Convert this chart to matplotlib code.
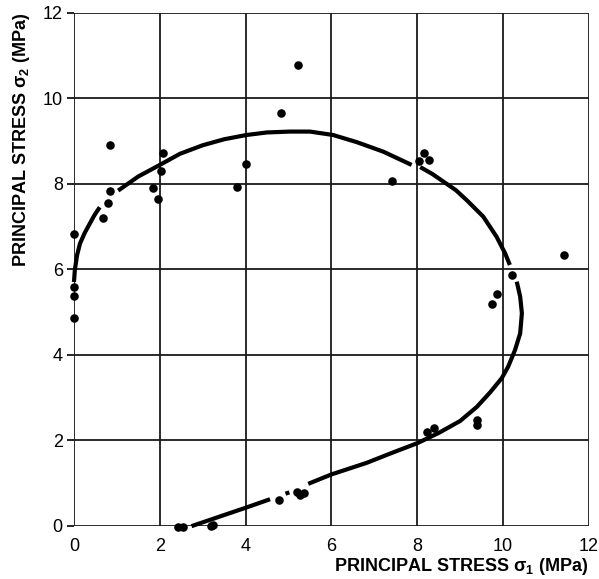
import numpy as np
import matplotlib
matplotlib.use("Agg")
import matplotlib.pyplot as plt

# ---- data ----
sigma1_pts = [0.0, 0.0, 0.0, 0.0, 0.67, 0.79, 0.84, 0.85, 1.85, 1.97, 2.03, 2.07,
              3.79, 4.01, 4.83, 5.21, 7.42, 8.05, 8.17, 8.27, 10.22, 11.41, 9.85, 9.74,
              9.39, 9.39, 8.22, 8.40, 4.79, 5.20, 5.27, 5.36, 2.43, 2.55, 3.23, 3.20]
sigma2_pts = [6.82, 5.58, 5.38, 4.85, 7.21, 7.54, 7.83, 8.90, 7.89, 7.64, 8.30, 8.71,
              7.93, 8.46, 9.66, 10.78, 8.07, 8.53, 8.71, 8.55, 5.86, 6.34, 5.41, 5.18,
              2.47, 2.36, 2.20, 2.28, 0.60, 0.80, 0.72, 0.76, -0.04, -0.03, 0.02, 0.00]

# fitted envelope (segments separated by gaps near data points)
curve_segments = [
    ([0.0, 0.02, 0.07, 0.14, 0.25, 0.37, 0.48, 0.60],
     [5.70, 5.98, 6.32, 6.60, 6.85, 7.07, 7.27, 7.45]),
    ([1.03, 1.5, 2.0, 2.47, 3.0, 3.5, 4.02, 4.5, 5.03, 5.5, 6.04, 6.6, 7.21, 7.87],
     [7.84, 8.17, 8.44, 8.70, 8.90, 9.04, 9.14, 9.20, 9.22, 9.22, 9.14, 8.97, 8.75, 8.44]),
    ([8.07, 8.35, 8.61, 8.90, 9.15, 9.54, 9.85, 10.05, 10.16],
     [8.39, 8.23, 8.05, 7.85, 7.62, 7.23, 6.76, 6.37, 6.10]),
    ([10.32, 10.40, 10.44, 10.40, 10.28, 10.12, 9.97, 9.70, 9.39, 9.00, 8.50, 8.00, 7.40, 6.82, 6.00, 5.46],
     [5.71, 5.36, 4.97, 4.50, 4.11, 3.72, 3.45, 3.12, 2.78, 2.45, 2.17, 1.93, 1.70, 1.47, 1.20, 0.98]),
    ([4.93, 5.02],
     [0.75, 0.78]),
    ([2.74, 3.5, 4.0, 4.57],
     [-0.01, 0.25, 0.42, 0.62]),
]

xticks = [0, 2, 4, 6, 8, 10, 12]
yticks = [0, 2, 4, 6, 8, 10, 12]
xlabel = r"PRINCIPAL STRESS $\mathregular{\sigma_1}$ (MPa)"
ylabel = r"PRINCIPAL STRESS $\mathregular{\sigma_2}$ (MPa)"

# ---- style ----
fam = "Liberation Sans"
plt.rcParams["font.family"] = [fam, "DejaVu Sans"]
plt.rcParams["mathtext.fontset"] = "custom"
plt.rcParams["mathtext.rm"] = fam + ":bold"
plt.rcParams["mathtext.it"] = fam + ":bold"
plt.rcParams["mathtext.bf"] = fam + ":bold"

fig = plt.figure(figsize=(5.99, 5.79), dpi=100)
ax = fig.add_axes([0.1235, 0.092, 0.8595, 0.886])
ax.set_xlim(0, 12)
ax.set_ylim(0, 12)

for x in xticks:
    ax.axvline(x, color="#1a1a1a", lw=1.3, zorder=1)
for y in yticks:
    ax.axhline(y, color="#1a1a1a", lw=1.3, zorder=1)
for s in ax.spines.values():
    s.set_visible(False)

for xs, ys in curve_segments:
    ax.plot(xs, ys, color="black", lw=3.0, solid_capstyle="butt",
            solid_joinstyle="round", zorder=3, clip_on=False)

ax.scatter(sigma1_pts, sigma2_pts, s=38, color="black", zorder=4, clip_on=False, linewidths=0)

ax.set_xticks(xticks)
ax.set_yticks(yticks)
ax.set_xticklabels([str(t) for t in xticks], fontsize=13)
ax.set_yticklabels([str(t) for t in yticks], fontsize=13)
ax.tick_params(axis="y", direction="out", length=5, width=1.2, pad=3)
ax.tick_params(axis="x", direction="out", length=0, width=1.2, pad=9)

fig.text(0.982, 0.022, xlabel, ha="right", va="center", fontsize=13, weight="bold")
fig.text(0.036, 0.978, ylabel, ha="center", va="top", rotation=90, fontsize=13, weight="bold")

fig.savefig("out.png", dpi=100)
